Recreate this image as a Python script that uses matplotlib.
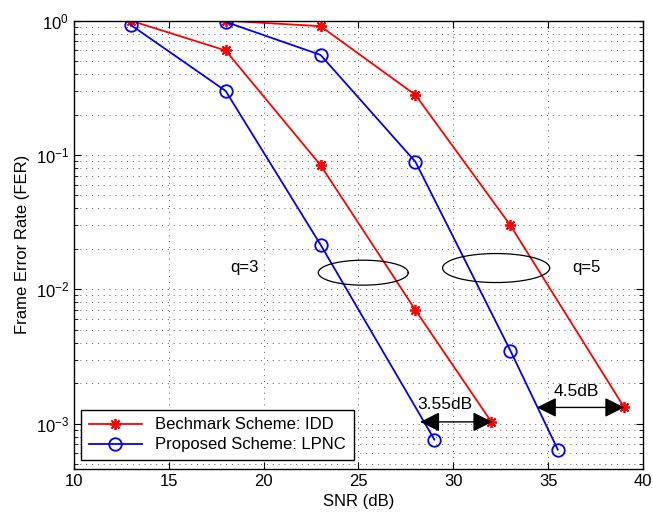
import numpy as np
import matplotlib.pyplot as plt

plt.rcParams['font.family'] = ['Liberation Sans', 'DejaVu Sans']

# SNR (dB) and FER for each curve
snr_idd_q3 = [13, 18, 23, 28, 32]
fer_idd_q3 = [1.0, 0.6, 0.084, 0.0070, 0.00103]
snr_lpnc_q3 = [13, 18, 23, 29]
fer_lpnc_q3 = [0.93, 0.30, 0.0215, 0.00076]

snr_idd_q5 = [18, 23, 28, 33, 39]
fer_idd_q5 = [1.0, 0.91, 0.28, 0.030, 0.00132]
snr_lpnc_q5 = [18, 23, 28, 33, 35.5]
fer_lpnc_q5 = [0.98, 0.556, 0.089, 0.0035, 0.00064]

xticks = [10, 15, 20, 25, 30, 35, 40]

fig = plt.figure(figsize=(6.53, 5.17), dpi=100)
ax = fig.add_axes([0.113, 0.093, 0.872, 0.867])

red_kw = dict(color='red', marker=(8, 2, 0), markersize=8, linewidth=1.3, markeredgewidth=1.3)
blue_kw = dict(color='blue', marker='o', markersize=9, markerfacecolor='none',
               markeredgewidth=1.3, linewidth=1.3)

ax.semilogy(snr_idd_q3, fer_idd_q3, label='Bechmark Scheme: IDD', **red_kw)
ax.semilogy(snr_lpnc_q3, fer_lpnc_q3, label='Proposed Scheme: LPNC', **blue_kw)
ax.semilogy(snr_idd_q5, fer_idd_q5, **red_kw)
ax.semilogy(snr_lpnc_q5, fer_lpnc_q5, **blue_kw)

# ellipses marking the two code groups
t = np.linspace(0, 2 * np.pi, 200)
for cx, cy, a, b in [(25.25, 0.0133, 2.37, 0.093), (32.25, 0.0144, 2.82, 0.108)]:
    ax.plot(cx + a * np.cos(t), 10 ** (np.log10(cy) + b * np.sin(t)), color='black', linewidth=0.9)

ax.text(19.0, 0.0145, 'q=3', fontsize=12, ha='center', va='center')
ax.text(37.0, 0.0145, 'q=5', fontsize=12, ha='center', va='center')

# gap arrows
arrow = dict(arrowstyle='<|-|>,head_length=0.6,head_width=0.3', color='black', lw=1,
             mutation_scale=20, shrinkA=0, shrinkB=0)
ax.annotate('', xy=(28.25, 0.00103), xytext=(32.05, 0.00103), arrowprops=arrow)
ax.annotate('', xy=(34.4, 0.00132), xytext=(39.0, 0.00132), arrowprops=arrow)
ax.text(29.55, 0.00139, '3.55dB', fontsize=12.5, ha='center', va='center')
ax.text(36.5, 0.00172, '4.5dB', fontsize=12.5, ha='center', va='center')

ax.set_xlim(10, 40)
ax.set_ylim(4.6e-4, 1)
ax.set_xticks(xticks)
ax.set_xlabel('SNR (dB)', fontsize=12)
ax.set_ylabel('Frame Error Rate (FER)', fontsize=12)
ax.tick_params(which='both', direction='in', top=True, right=True, labelsize=12)
ax.tick_params(which='major', length=5)
ax.tick_params(which='minor', length=3)
grid_kw = dict(linestyle=(0, (1, 5)), color='0.35', linewidth=0.7)
ax.grid(True, which='major', axis='x', **grid_kw)
ax.grid(True, which='both', axis='y', **grid_kw)
for s in ax.spines.values():
    s.set_linewidth(1)

leg = ax.legend(loc='lower left', bbox_to_anchor=(0.013, 0.02), fontsize=12,
                fancybox=False, framealpha=1, edgecolor='black',
                borderpad=0.45, handlelength=3.2, labelspacing=0.3, borderaxespad=0)
leg.get_frame().set_linewidth(1)

fig.savefig('out.png', dpi=100)
